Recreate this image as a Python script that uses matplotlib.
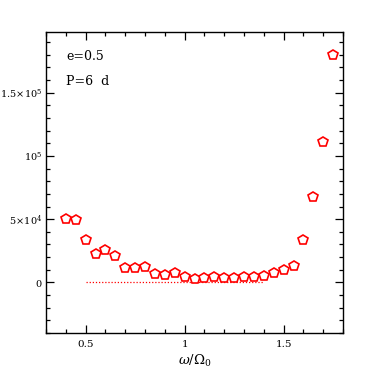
"""Red pentagon markers: e=0.5, P=6 d, versus omega/Omega_0."""

import matplotlib

matplotlib.use("Agg")
import matplotlib.pyplot as plt
from matplotlib.ticker import FixedLocator, MultipleLocator

omega = [0.40, 0.45, 0.50, 0.55, 0.60, 0.65, 0.70, 0.75, 0.80, 0.85, 0.90, 0.95,
         1.00, 1.05, 1.10, 1.15, 1.20, 1.25, 1.30, 1.35, 1.40, 1.45, 1.50, 1.55,
         1.60, 1.65, 1.70, 1.75]
values = [50500, 49200, 33600, 22100, 25500, 20800, 11600, 11600, 11800, 6300,
          5500, 7400, 4500, 2600, 3200, 4500, 3500, 3700, 4500, 3900, 4700, 7100,
          10000, 13200, 33700, 67900, 110800, 179800]
zero_line_x = [0.5, 1.4]
zero_line_y = [0, 0]

ytick_values = [0, 50000, 100000, 150000]
ytick_labels = [r"$0$", r"$5\!\times\!10^4$", r"$10^5$", r"$1.5\!\times\!10^5$"]
xtick_values = [0.5, 1.0, 1.5]
xtick_labels = ["0.5", "1", "1.5"]

plt.rcParams["font.family"] = "DejaVu Serif"
plt.rcParams["mathtext.fontset"] = "dejavuserif"

fig = plt.figure(figsize=(3.74, 3.74), dpi=100)
ax = fig.add_axes([46 / 374, 41 / 374, 297 / 374, 301 / 374])

ax.plot(zero_line_x, zero_line_y, color="red", linestyle=(0, (1, 1.5)), linewidth=0.9)
ax.plot(omega, values, linestyle="none", marker="p", markersize=7.2,
        markerfacecolor="white", markeredgecolor="red", markeredgewidth=1.2)

ax.set_xlim(0.3, 1.8)
ax.set_ylim(-40000, 198000)
ax.xaxis.set_major_locator(FixedLocator(xtick_values))
ax.xaxis.set_minor_locator(MultipleLocator(0.1))
ax.yaxis.set_major_locator(FixedLocator(ytick_values))
ax.yaxis.set_minor_locator(MultipleLocator(10000))
ax.set_xticklabels(xtick_labels)
ax.set_yticklabels(ytick_labels)

ax.tick_params(which="both", direction="in", top=True, right=True, width=0.9)
ax.tick_params(axis="x", pad=5, labelsize=7.5)
ax.tick_params(axis="y", pad=2.5, labelsize=7)
ax.tick_params(which="major", length=6)
ax.tick_params(which="minor", length=3)
for spine in ax.spines.values():
    spine.set_linewidth(1.0)

ax.text(0.067, 0.92, "e=0.5", transform=ax.transAxes, fontsize=9, va="center")
ax.text(0.067, 0.835, "P=6  d", transform=ax.transAxes, fontsize=9, va="center")
ax.set_xlabel(r"$\omega/\Omega_0$", fontsize=9.5, labelpad=3)

fig.savefig("out.png", dpi=100)
